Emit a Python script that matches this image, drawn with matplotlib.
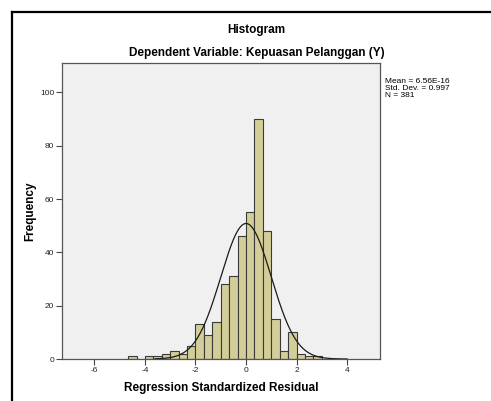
import matplotlib.pyplot as plt
import numpy as np
from matplotlib.lines import Line2D

plt.rcParams['font.family'] = ['Liberation Sans', 'DejaVu Sans']
plt.rcParams['axes.unicode_minus'] = False

# bin edges are multiples of 1/3 from -14/3 to 3
bin_lo = -14
bin_hi = 9
counts = [1, 0, 1, 1, 2, 3, 2, 5, 13, 9, 14, 28, 31, 46, 55, 90, 48, 15, 3, 10, 2, 1, 1]
mean_val = 6.56e-16
std_val = 0.997
n_val = 381
xticks = [-6, -4, -2, 0, 2, 4]
yticks = [0, 20, 40, 60, 80, 100]

edges = np.arange(bin_lo, bin_hi + 1) / 3.0
width = 1 / 3.0

fig = plt.figure(figsize=(4.91, 4.01), dpi=100)
ax = fig.add_axes([0.1263, 0.1047, 0.6477, 0.7382])
ax.set_facecolor('#f0f0f0')

ax.bar(edges[:-1], counts, width=width, align='edge', color='#d3ce97',
       edgecolor='#3a3a3a', linewidth=0.8)

# normal curve scaled to counts
xs = np.linspace(-3.6, 4.0, 400)
ys = n_val * width / (std_val * np.sqrt(2 * np.pi)) * np.exp(-0.5 * ((xs - mean_val) / std_val) ** 2)
ax.plot(xs, ys, color='#1a1a1a', linewidth=0.9)

ax.set_xlim(-7.28, 5.3)
ax.set_ylim(0, 111)
ax.set_xticks(xticks)
ax.set_yticks(yticks)
ax.tick_params(labelsize=6, length=4, width=0.8, color='#444444', labelcolor='#222222', pad=1.5)
for side in ['top', 'right', 'left', 'bottom']:
    ax.spines[side].set_color('#555555')
    ax.spines[side].set_linewidth(0.9)

ax.set_xlabel('Regression Standardized Residual', fontsize=8.5, fontweight='bold', labelpad=6)
ax.set_ylabel('Frequency', fontsize=8.5, fontweight='bold', labelpad=3)

fig.text(0.523, 0.925, 'Histogram', ha='center', va='center', fontsize=8.5, fontweight='bold')
fig.text(0.523, 0.868, 'Dependent Variable: Kepuasan Pelanggan (Y)', ha='center', va='center',
         fontsize=8.5, fontweight='bold')
fig.text(0.784, 0.805, f'Mean = 6.56E-16\nStd. Dev. = {std_val}\nN = {n_val}',
         ha='left', va='top', fontsize=6, linespacing=0.95)

# outer frame (left and top edges)
fig.add_artist(Line2D([12 / 491, 12 / 491], [0, 1 - 12 / 401], color='black', linewidth=1.6))
fig.add_artist(Line2D([12 / 491, 1], [1 - 12 / 401, 1 - 12 / 401], color='black', linewidth=1.6))

plt.savefig('out.png', dpi=100)
plt.close()
